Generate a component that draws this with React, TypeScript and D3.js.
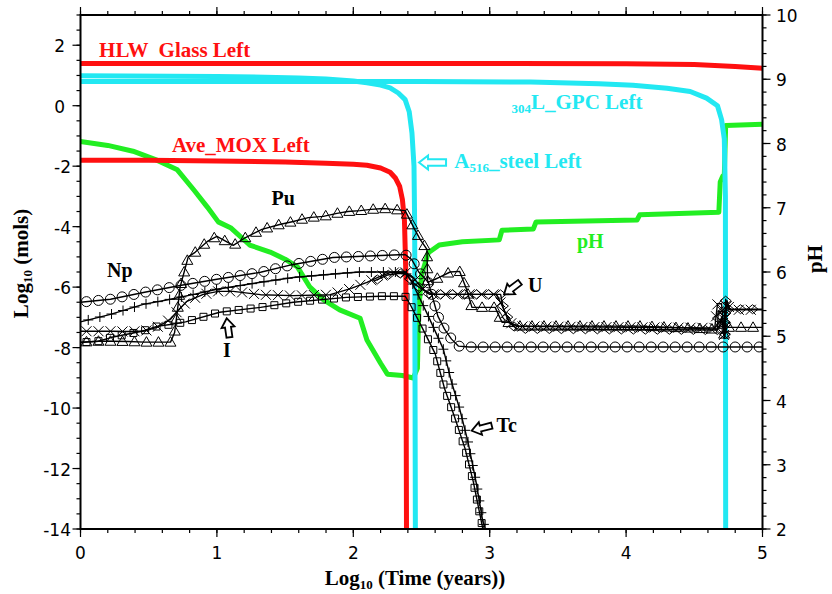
import React from 'react';
import * as d3 from 'd3';

const W = 832;
const H = 594;

// ---------- data (x = log10 time in years, y = log10 mols / pH) ----------
const hlwX = [0, 1, 2.3, 3.2, 4.0, 4.5, 4.8, 5];
const hlwY = [1.4, 1.4, 1.4, 1.4, 1.39, 1.36, 1.3, 1.24];

const moxX = [0, 0.5, 1, 1.5, 1.8, 2.0, 2.1, 2.2, 2.27, 2.31, 2.34, 2.36, 2.375, 2.385, 2.39];
const moxY = [-1.8, -1.8, -1.83, -1.86, -1.9, -1.94, -1.97, -2.06, -2.2, -2.4, -2.67, -3.1, -3.8, -5.5, -14];

const a516X = [0, 1, 1.6, 1.8, 2.0, 2.1, 2.2, 2.27, 2.33, 2.38, 2.41, 2.43, 2.445, 2.45, 2.455];
const a516Y = [0.99, 0.97, 0.92, 0.88, 0.82, 0.76, 0.68, 0.59, 0.42, 0.2, -0.2, -0.9, -2, -4, -14];

const gpcX = [0, 2.5, 3.3, 3.8, 4.05, 4.3, 4.47, 4.59, 4.67, 4.7, 4.72, 4.728, 4.73];
const gpcY = [0.8, 0.8, 0.78, 0.73, 0.68, 0.58, 0.47, 0.25, 0, -0.46, -1.1, -3, -14];

const phX = [0, 0.2, 0.385, 0.56, 0.71, 0.83, 0.93, 1.01, 1.1, 1.24, 1.39, 1.5, 1.59, 1.68, 1.78, 1.9, 2.05, 2.1, 2.2, 2.25, 2.36, 2.44, 2.47, 2.48, 2.5, 2.55, 2.63, 2.8, 3.07, 3.09, 3.32, 3.34, 4.08, 4.1, 4.68, 4.69, 4.71, 4.72, 4.73, 5];
const phY = [8.03, 7.97, 7.88, 7.74, 7.59, 7.28, 7.01, 6.78, 6.69, 6.42, 6.31, 6.2, 6.08, 5.77, 5.57, 5.41, 5.28, 4.94, 4.58, 4.41, 4.39, 4.35, 4.5, 5.4, 5.95, 6.3, 6.42, 6.47, 6.5, 6.65, 6.67, 6.78, 6.81, 6.89, 6.93, 7.4, 7.5, 7.5, 8.28, 8.3];

// Np (circles)
const npX = [0, 0.22, 0.47, 0.74, 1.0, 1.32, 1.56, 1.85, 2.07, 2.38, 2.43, 2.48, 2.55, 2.62, 2.67, 2.72, 2.77, 2.85, 5];
const npY = [-6.5, -6.4, -6.17, -5.94, -5.74, -5.51, -5.25, -5.02, -4.98, -4.92, -5.1, -5.5, -5.84, -6.96, -7.4, -7.72, -7.95, -7.98, -7.98];

// Tc (plus)
const tcX = [0, 0.22, 0.46, 0.66, 0.83, 1.0, 1.32, 1.56, 1.92, 2.05, 2.38, 2.43, 2.55, 2.66, 2.72, 2.78, 2.84, 2.9, 2.95, 2.97];
const tcY = [-7.15, -6.9, -6.57, -6.4, -6.24, -6.07, -5.84, -5.68, -5.54, -5.5, -5.5, -5.84, -6.96, -8.05, -9.14, -10.03, -11.1, -12.44, -13.76, -14];

// I (squares)
const iX = [0, 0.13, 0.23, 0.45, 0.56, 0.67, 0.77, 1.02, 1.32, 1.56, 1.95, 2.2, 2.38, 2.42, 2.5, 2.6, 2.67, 2.74, 2.82, 2.88, 2.93, 2.95];
const iY = [-7.83, -7.79, -7.66, -7.46, -7.3, -7.23, -7.15, -6.83, -6.67, -6.5, -6.34, -6.3, -6.3, -6.6, -7.3, -8.2, -9.37, -10.26, -11.35, -12.44, -13.56, -14];

// Pu (triangles)
const puX = [0, 0.13, 0.23, 0.35, 0.47, 0.55, 0.66, 0.69, 0.71, 0.73, 0.76, 0.79, 0.84, 0.93, 1.0, 1.12, 1.21, 1.33, 1.46, 1.56, 1.67, 1.78, 1.88, 1.96, 2.05, 2.13, 2.22, 2.29, 2.38, 2.45, 2.49, 2.54, 2.545, 2.6, 2.63, 2.71, 2.78, 2.83, 2.87, 3.04, 3.09, 3.13, 3.22, 4.1, 4.65, 4.68, 4.7, 4.72, 4.74, 5];
const puY = [-7.82, -7.79, -7.79, -7.8, -7.82, -7.82, -7.82, -7.5, -6.8, -6.0, -5.5, -5.0, -4.85, -4.49, -4.32, -4.62, -4.36, -4.09, -3.93, -3.83, -3.7, -3.66, -3.56, -3.5, -3.47, -3.43, -3.4, -3.43, -3.47, -4.09, -4.42, -4.75, -5.84, -5.74, -5.68, -5.5, -5.48, -6.07, -6.67, -6.67, -7.16, -7.16, -7.29, -7.29, -7.39, -7.39, -7.0, -7.6, -7.33, -7.33];

// unlabelled (crosses)
const xsX = [0, 0.13, 0.23, 0.35, 0.47, 0.56, 0.66, 0.71, 0.78, 0.9, 1.01, 1.12, 1.32, 1.56, 1.83, 1.98, 2.1, 2.2, 2.27, 2.38, 2.45, 2.52, 2.58, 3.05, 3.1, 3.14, 3.2, 4.65, 4.67, 4.7, 4.72, 4.74, 4.76, 5];
const xsY = [-7.46, -7.46, -7.46, -7.47, -7.45, -7.33, -7.06, -6.8, -6.47, -6.24, -6.14, -6.14, -6.25, -6.28, -6.25, -6.05, -5.84, -5.64, -5.52, -5.5, -5.75, -6.1, -6.24, -6.24, -6.7, -7.15, -7.3, -7.35, -6.55, -6.55, -7.7, -6.45, -6.75, -6.75];

// U (diamonds)
const uX = [2.15, 2.25, 2.33, 2.38, 2.45, 2.56, 3.08, 3.1, 3.15, 3.2, 4.65, 4.67, 4.675, 4.72, 4.725, 4.73, 4.75, 5];
const uY = [-5.8, -5.6, -5.55, -5.55, -5.9, -6.24, -6.24, -6.7, -7.2, -7.38, -7.42, -7.42, -6.8, -6.8, -7.6, -6.4, -6.73, -6.73];

const xTicks = [0, 1, 2, 3, 4, 5];
const yTicks = [-14, -12, -10, -8, -6, -4, -2, 0, 2];
const phTicks = [2, 3, 4, 5, 6, 7, 8, 9, 10];

const RED = '#ff1010';
const CYAN = '#22e8f2';
const GREEN = '#22ee22';

const serif = "'Liberation Serif', 'Times New Roman', serif";
const tickFont = "'DejaVu Sans', sans-serif";

type Pt = [number, number];

function zip(a: number[], b: number[]): Pt[] {
  return a.map((v, i) => [v, b[i]] as Pt);
}

function sampleAlong(pts: Pt[], step: number, offset: number): Pt[] {
  const out: Pt[] = [];
  let t = offset;
  for (let i = 0; i < pts.length - 1; i++) {
    const [x0, y0] = pts[i];
    const [x1, y1] = pts[i + 1];
    const L = Math.hypot(x1 - x0, y1 - y0);
    while (t <= L) {
      const f = L === 0 ? 0 : t / L;
      out.push([x0 + (x1 - x0) * f, y0 + (y1 - y0) * f]);
      t += step;
    }
    t -= L;
  }
  return out;
}

const markerPaths: Record<string, string> = {
  circle: 'M5,0A5,5 0 1 1 -5,0A5,5 0 1 1 5,0Z',
  triangle: 'M0,-5.5L5.5,4L-5.5,4Z',
  square: 'M-3.5,-3.5H3.5V3.5H-3.5Z',
  diamond: 'M-5.5,0L0,-4.5L5.5,0L0,4.5Z',
  cross: 'M-5,-5L5,5M-5,5L5,-5',
  plus: 'M-5,0H5M0,-5V5',
};

function arrowPath(tx: number, ty: number, sx: number, sy: number, headL: number, headW: number, shaftW: number) {
  const dx = sx - tx, dy = sy - ty;
  const L = Math.hypot(dx, dy);
  const ux = dx / L, uy = dy / L; // from tip toward tail
  const px = -uy, py = ux;
  const p = (a: number, b: number) => `${(tx + ux * a + px * b).toFixed(2)},${(ty + uy * a + py * b).toFixed(2)}`;
  return `M${p(0, 0)}L${p(headL, headW)}L${p(headL, shaftW)}L${p(L, shaftW)}L${p(L, -shaftW)}L${p(headL, -shaftW)}L${p(headL, -headW)}Z`;
}

export default function App() {
  const left = 80.5, right = 762.5, top = 15, bottom = 529;
  const x = d3.scaleLinear().domain([0, 5]).range([left, right]);
  const y = d3.scaleLinear().domain([-14, 3]).range([bottom, top]);
  const yp = d3.scaleLinear().domain([2, 10]).range([bottom, top]);

  const lineL = d3.line<Pt>().x(d => x(d[0])).y(d => y(d[1]));
  const lineR = d3.line<Pt>().x(d => x(d[0])).y(d => yp(d[1]));

  const markerSeries = [
    { xs: npX, ys: npY, m: 'circle', off: 6 },
    { xs: tcX, ys: tcY, m: 'plus', off: 8 },
    { xs: iX, ys: iY, m: 'square', off: 6 },
    { xs: puX, ys: puY, m: 'triangle', off: 6 },
    { xs: xsX, ys: xsY, m: 'cross', off: 6 },
    { xs: uX, ys: uY, m: 'diamond', off: 4 },
  ];

  const xMinor = d3.range(0, 5.001, 0.2);
  const yMinor = d3.range(-14, 3.001, 0.5);
  const phMinor = d3.range(2, 10.001, 0.2);

  const labelStyle = { fontFamily: serif, fontWeight: 700 } as const;

  return (
    <svg width={W} height={H} style={{ position: 'absolute', left: 0, top: 0, background: '#fff' }}>
      <defs>
        <clipPath id="plot">
          <rect x={left} y={top} width={right - left} height={bottom - top} />
        </clipPath>
      </defs>
      <rect x={0} y={0} width={W} height={H} fill="#fff" />

      <g clipPath="url(#plot)" fill="none" strokeLinejoin="round">
        <path d={lineR(zip(phX, phY)) || ''} stroke={GREEN} strokeWidth={5} />
        <path d={lineL(zip(hlwX, hlwY)) || ''} stroke={RED} strokeWidth={5} />
        <path d={lineL(zip(moxX, moxY)) || ''} stroke={RED} strokeWidth={5} />
        <path d={lineL(zip(a516X, a516Y)) || ''} stroke={CYAN} strokeWidth={5} />
        <path d={lineL(zip(gpcX, gpcY)) || ''} stroke={CYAN} strokeWidth={5} />
        {markerSeries.map((s, i) => {
          const data = zip(s.xs, s.ys);
          const px: Pt[] = data.map(d => [x(d[0]), y(d[1])]);
          const marks = sampleAlong(px, 12, s.off).filter(p => p[1] <= bottom + 1);
          return (
            <g key={i}>
              <path d={lineL(data) || ''} stroke="#000" strokeWidth={1.4} />
              {marks.map((p, j) => (
                <path key={j} d={markerPaths[s.m]} transform={`translate(${p[0].toFixed(2)},${p[1].toFixed(2)})`} stroke="#000" strokeWidth={1} fill="none" />
              ))}
            </g>
          );
        })}
      </g>

      {/* frame */}
      <rect x={left} y={top} width={right - left} height={bottom - top} fill="none" stroke="#000" strokeWidth={2} />

      {/* ticks */}
      <g stroke="#000" strokeWidth={1.2}>
        {xMinor.map((t, i) => (
          <g key={'xm' + i}>
            <line x1={x(t)} x2={x(t)} y1={bottom} y2={bottom + 4} />
            <line x1={x(t)} x2={x(t)} y1={top} y2={top - 4} />
          </g>
        ))}
        {xTicks.map((t, i) => (
          <g key={'xM' + i}>
            <line x1={x(t)} x2={x(t)} y1={bottom} y2={bottom + 8} />
            <line x1={x(t)} x2={x(t)} y1={top} y2={top - 8} />
          </g>
        ))}
        {yMinor.map((t, i) => (
          <line key={'ym' + i} x1={left} x2={left - 4} y1={y(t)} y2={y(t)} />
        ))}
        {yTicks.map((t, i) => (
          <line key={'yM' + i} x1={left} x2={left - 8} y1={y(t)} y2={y(t)} />
        ))}
        {phMinor.map((t, i) => (
          <line key={'pm' + i} x1={right} x2={right + 4} y1={yp(t)} y2={yp(t)} />
        ))}
        {phTicks.map((t, i) => (
          <line key={'pM' + i} x1={right} x2={right + 8} y1={yp(t)} y2={yp(t)} />
        ))}
      </g>

      {/* tick labels */}
      <g fontFamily={tickFont} fontSize={17} fill="#000">
        {xTicks.map((t, i) => (
          <text key={'xl' + i} x={x(t)} y={bottom + 30} textAnchor="middle">{t}</text>
        ))}
        {yTicks.map((t, i) => (
          <text key={'yl' + i} x={t < 0 ? 71 : 65} y={y(t) + 7} textAnchor="end">{t < 0 ? '-' + Math.abs(t) : t}</text>
        ))}
        {phTicks.map((t, i) => (
          <text key={'pl' + i} x={776} y={yp(t) + 7} textAnchor="start">{t}</text>
        ))}
      </g>

      {/* axis titles */}
      <text x={415} y={585} textAnchor="middle" fontSize={21} {...labelStyle}>
        Log<tspan fontSize={13} dy={4}>10</tspan><tspan dy={-4}> (Time (years))</tspan>
      </text>
      <text transform="translate(28,263.5) rotate(-90)" textAnchor="middle" fontSize={21} {...labelStyle}>
        Log<tspan fontSize={13} dy={4}>10</tspan><tspan dy={-4}> (mols)</tspan>
      </text>
      <text transform="translate(822,259) rotate(-90)" textAnchor="middle" fontSize={21} {...labelStyle}>pH</text>

      {/* series labels */}
      <text x={x(0.136)} y={y(1.62)} fontSize={21} fill={RED} {...labelStyle} style={{ whiteSpace: 'pre' }}>{'HLW  Glass Left'}</text>
      <text x={x(0.67)} y={y(-1.52)} fontSize={21} fill={RED} {...labelStyle}>Ave_MOX Left</text>
      <text x={x(3.16)} y={y(-0.1)} fontSize={21} fill={CYAN} {...labelStyle}>
        <tspan fontSize={13} dy={4}>304</tspan><tspan dy={-4}>L_GPC Left</tspan>
      </text>
      <text x={x(2.74)} y={y(-2.05)} fontSize={21} fill={CYAN} {...labelStyle}>
        A<tspan fontSize={13} dy={4}>516</tspan><tspan dy={-4}>_steel Left</tspan>
      </text>
      <text x={x(3.64)} y={y(-4.69)} fontSize={20} fill={GREEN} {...labelStyle}>pH</text>
      <text x={x(1.4)} y={y(-3.3)} fontSize={20} fill="#000" {...labelStyle}>Pu</text>
      <text x={x(0.194)} y={y(-5.68)} fontSize={20} fill="#000" {...labelStyle}>Np</text>
      <text x={x(1.045)} y={y(-8.32)} fontSize={20} fill="#000" {...labelStyle}>I</text>
      <text x={x(3.28)} y={y(-6.17)} fontSize={20} fill="#000" {...labelStyle}>U</text>
      <text x={x(3.05)} y={y(-10.79)} fontSize={20} fill="#000" {...labelStyle}>Tc</text>

      {/* arrows */}
      <path d={arrowPath(x(2.482), y(-1.88), x(2.68), y(-1.88), 9, 7, 3.2)} fill="#fff" stroke={CYAN} strokeWidth={2} />
      <path d={arrowPath(x(3.105), y(-6.24), x(3.222), y(-5.84), 9, 6.5, 3)} fill="#fff" stroke="#000" strokeWidth={1.8} />
      <path d={arrowPath(x(2.868), y(-10.75), x(3.015), y(-10.58), 9, 6.5, 3)} fill="#fff" stroke="#000" strokeWidth={1.8} />
      <path d={arrowPath(x(1.072), y(-7.03), x(1.092), y(-7.66), 9, 6.5, 3)} fill="#fff" stroke="#000" strokeWidth={1.8} />
    </svg>
  );
}
